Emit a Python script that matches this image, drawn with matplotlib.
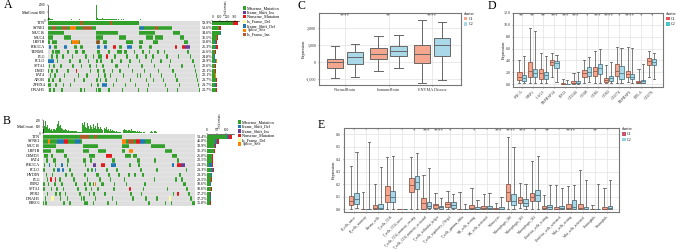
import matplotlib
matplotlib.use('Agg')
import matplotlib.pyplot as plt

W, H = 676, 249
GREEN, BLUE, PURPLE, RED, YELLOW, ORANGE, DARKRED = '#33A02C', '#1F78B4', '#6A3D9A', '#E31A1C', '#FFFF99', '#FF7F00', '#B15928'
SALMON, LBLUE = '#F4A78E', '#A9D8E8'

# ---- panel A oncoplot
genes_a = ['TTN', 'SYNE1', 'MUC16', 'MUC4', 'LRP1B', 'PIK3CA', 'TENM1', 'FLG', 'PCLO', 'SPTA1', 'DMD', 'FAT4', 'APOB', 'ZFHX4', 'DNAH5']
pct_a = ['59.9%', '53.6%', '34.6%', '31.5%', '30.8%', '26.3%', '25.6%', '24.8%', '23.9%', '22.6%', '22.1%', '22.1%', '21.7%', '21.7%', '21.7%']
cells_a = [
    [(0, 91)],
    [(0, 48), (91, 33)],
    [(0, 16), (48, 22), (91, 16), (125, 7)],
    [(0, 5), (16, 7), (48, 7), (71, 7), (98, 7), (107, 8), (132, 4)],
    [(0, 2), (4, 5), (23, 9), (48, 4), (55, 4), (78, 7), (91, 4), (105, 5), (136, 4)],
    [(1, 2), (6, 3), (16, 3), (26, 3), (32, 3), (49, 3), (56, 3), (65, 3), (71, 3), (79, 5), (91, 3), (101, 3), (127, 2), (134, 8)],
    [(4, 2), (7, 5), (19, 2), (27, 3), (34, 3), (49, 3), (60, 2), (69, 5), (76, 3), (86, 1), (94, 2), (101, 1), (109, 2), (116, 1), (139, 2)],
    [(3, 2), (8, 2), (14, 2), (24, 1), (37, 2), (45, 1), (50, 4), (58, 2), (66, 2), (78, 2), (88, 2), (97, 2), (104, 2), (118, 2), (130, 1), (142, 1)],
    [(0, 6), (9, 1), (21, 2), (31, 2), (40, 1), (48, 2), (52, 2), (63, 2), (72, 2), (81, 2), (91, 1), (103, 1), (112, 2), (122, 1), (144, 2)],
    [(1, 1), (5, 2), (12, 2), (24, 2), (33, 1), (41, 2), (48, 1), (54, 2), (67, 3), (80, 1), (93, 2), (106, 1), (121, 1), (133, 2), (146, 1)],
    [(0, 1), (3, 2), (8, 2), (19, 2), (28, 1), (42, 1), (49, 2), (55, 2), (64, 1), (71, 2), (84, 1), (96, 1), (110, 1), (124, 2), (147, 1)],
    [(2, 1), (6, 2), (16, 1), (30, 1), (38, 2), (50, 1), (56, 2), (62, 1), (75, 1), (89, 1), (92, 1), (102, 1), (113, 1), (127, 1), (148, 1)],
    [(0, 2), (4, 2), (11, 2), (26, 1), (35, 2), (48, 2), (52, 1), (57, 2), (68, 1), (82, 1), (98, 1), (105, 1), (115, 1), (128, 2), (149, 1)],
    [(0, 3), (7, 2), (15, 1), (22, 1), (43, 1), (49, 2), (54, 5), (65, 1), (77, 1), (87, 1), (100, 1), (117, 1), (131, 1), (150, 1)],
    [(1, 2), (5, 2), (13, 2), (32, 2), (36, 1), (48, 1), (50, 3), (60, 2), (74, 1), (90, 1), (99, 1), (119, 1), (129, 1), (151, 1)],
]
# (row, start, width, colour) for the cells that are not missense
other_a = [
    (1, 4, 4, DARKRED), (1, 14, 5, DARKRED), (1, 22, 6, ORANGE), (1, 35, 9, DARKRED), (1, 92, 4, BLUE), (1, 107, 3, DARKRED),
    (0, 32, 3, DARKRED), (0, 62, 2, DARKRED), (4, 24, 7, ORANGE), (4, 49, 2, RED),
    (5, 1, 2, BLUE), (5, 16, 3, BLUE), (5, 49, 3, BLUE), (5, 56, 3, BLUE), (5, 65, 3, RED), (5, 79, 5, BLUE),
    (5, 127, 2, RED), (5, 134, 3, RED), (5, 137, 5, PURPLE), (7, 58, 2, RED), (8, 0, 6, BLUE), (10, 28, 1, RED), (13, 54, 5, BLUE),
]
top_a = [14, 10, 6, 5, 4, 3, 3, 2, 2, 2, 2, 2, 2, 3, 2, 2, 2, 1, 1, 2,
         3, 2, 2, 4, 3, 2, 2, 3, 2, 2, 2, 4, 3, 2, 2, 2, 2, 2, 3, 2,
         2, 2, 3, 2, 2, 2, 2, 2, 100, 12, 9, 8, 8, 9, 10, 7, 6, 7, 9, 6,
         6, 5, 5, 6, 4, 5, 5, 4, 5, 3, 4, 3, 3, 4, 3, 4, 3, 3, 3, 3,
         3, 2, 3, 2, 3, 2, 2, 2, 3, 2, 2, 3, 4, 2, 2, 2, 2, 2, 2, 2,
         2, 1, 2, 1, 2, 1, 1, 2, 1, 1, 1, 2, 1, 1, 1, 1, 1, 2, 1, 1,
         1, 1, 1, 1, 1, 1, 1, 1, 1, 1, 1, 1, 1, 1, 1, 1, 1, 1, 1, 1,
         1, 1, 1, 1, 1, 1, 1, 1, 1, 1, 1, 1]
side_a = {GREEN: [270, 85, 105, 62, 42, 30, 38, 28, 32, 38, 38, 36, 46, 40, 44],
          BLUE: [10, 8, 5, 6, 4, 24, 3, 2, 12, 3, 3, 2, 4, 8, 6],
          RED: [60, 25, 8, 10, 10, 24, 6, 5, 10, 6, 6, 4, 6, 8, 6],
          ORANGE: [6, 2, 2, 2, 2, 2, 2, 1, 4, 2, 2, 2, 2, 2, 2]}
legend_a = ['Missense_Mutation', 'Frame_Shift_Ins', 'Nonsense_Mutation', 'In_Frame_Del', 'Frame_Shift_Del', 'Splice_Site', 'In_Frame_Ins']
legend_a_col = [GREEN, PURPLE, RED, YELLOW, BLUE, ORANGE, DARKRED]

# ---- panel B oncoplot
genes_b = ['TTN', 'SYNE1', 'MUC16', 'LRP1B', 'CSMD3', 'FAT4', 'PIK3CA', 'PCLO', 'HYDIN', 'FLG', 'FBN2', 'SPTA1', 'RYR2', 'DNAH5', 'BIRC6']
pct_b = ['51.4%', '45.0%', '33.9%', '31.3%', '26.0%', '22.5%', '21.3%', '21.3%', '21.3%', '20.5%', '18.6%', '18.6%', '17.2%', '17.2%', '15.8%']
cells_b = [
    [(0, 78)],
    [(0, 39), (78, 29)],
    [(0, 13), (40, 15), (78, 7), (107, 13)],
    [(0, 8), (13, 8), (40, 6), (55, 7), (78, 3), (85, 4), (120, 7)],
    [(1, 4), (8, 2), (21, 3), (46, 6), (62, 6), (81, 6), (89, 4), (127, 5)],
    [(3, 2), (10, 3), (24, 2), (40, 3), (47, 2), (68, 3), (93, 3), (110, 2), (132, 2)],
    [(1, 1), (6, 1), (12, 1), (18, 2), (24, 1), (42, 1), (50, 3), (58, 3), (67, 2), (69, 3), (85, 2), (94, 2), (127, 2), (132, 8)],
    [(0, 2), (10, 2), (14, 3), (19, 2), (26, 2), (44, 2), (48, 2), (52, 1), (62, 2), (72, 2), (96, 2), (112, 2), (141, 1)],
    [(3, 1), (9, 1), (22, 2), (28, 2), (41, 2), (53, 3), (64, 2), (74, 2), (84, 2), (90, 2), (98, 2), (134, 2)],
    [(4, 1), (7, 2), (12, 1), (16, 2), (30, 2), (44, 1), (56, 2), (66, 1), (80, 1), (110, 1), (130, 2), (136, 2)],
    [(0, 2), (5, 1), (11, 2), (18, 2), (32, 2), (41, 2), (46, 2), (50, 1), (52, 1), (58, 2), (70, 1), (82, 1), (100, 2), (138, 3)],
    [(0, 2), (8, 1), (13, 2), (20, 1), (34, 2), (42, 2), (48, 1), (54, 2), (69, 2), (85, 2), (99, 1), (122, 1), (141, 2)],
    [(4, 1), (12, 2), (16, 2), (22, 1), (36, 2), (46, 1), (50, 2), (60, 2), (86, 2), (97, 1), (128, 1), (132, 2), (143, 2)],
    [(2, 1), (8, 3), (17, 1), (24, 1), (38, 1), (40, 2), (52, 1), (68, 1), (88, 2), (101, 2), (112, 2), (124, 2), (145, 2)],
    [(0, 1), (2, 2), (20, 2), (26, 2), (41, 4), (50, 1), (63, 2), (72, 1), (104, 2), (120, 1), (126, 1), (147, 3)],
]
other_b = [
    (0, 37, 9, DARKRED), (0, 51, 3, DARKRED), (1, 5, 2, ORANGE), (1, 14, 7, BLUE), (1, 21, 4, RED), (1, 32, 5, BLUE),
    (1, 78, 4, ORANGE), (1, 84, 6, DARKRED), (1, 92, 4, RED), (1, 96, 5, BLUE), (3, 85, 4, ORANGE), (4, 62, 6, RED),
    (6, 6, 1, BLUE), (6, 18, 2, BLUE), (6, 50, 3, PURPLE), (6, 58, 3, RED), (6, 67, 5, BLUE), (6, 127, 2, BLUE), (6, 132, 4, RED), (6, 136, 4, PURPLE),
    (7, 14, 3, BLUE), (7, 19, 2, BLUE), (7, 52, 1, BLUE), (9, 7, 2, RED), (9, 12, 1, RED), (10, 52, 1, ORANGE), (11, 85, 2, RED),
    (12, 132, 2, RED), (13, 8, 3, YELLOW), (13, 124, 2, YELLOW),
]
top_b = [30, 55, 90, 45, 60, 35, 40, 25, 30, 20, 35, 30, 25, 40, 70, 95, 55, 65, 40, 30,
         28, 25, 30, 22, 20, 25, 18, 20, 15, 18, 18, 16, 15, 14, 12, 12, 10, 10, 10, 80,
         60, 85, 50, 40, 75, 55, 35, 65, 45, 30, 70, 40, 55, 35, 75, 45, 30, 50, 35, 25,
         40, 30, 45, 25, 35, 20, 30, 18, 25, 15, 18, 12, 15, 10, 12, 8, 10, 6, 5, 25,
         30, 22, 28, 18, 24, 26, 20, 35, 15, 18, 14, 20, 12, 16, 10, 14, 8, 12, 6, 8,
         8, 6, 5, 6, 4, 5, 12, 15, 8, 6, 14, 18, 12, 6, 5, 4, 5, 3, 4, 3,
         3, 4, 3, 3, 2, 3, 2, 3, 2, 2, 2, 2, 2, 2, 2, 2, 1, 2, 1, 1,
         1, 2, 1, 1, 1, 1, 1, 1, 1, 1]
side_b = {GREEN: [105, 42, 38, 36, 25, 24, 12, 22, 20, 20, 18, 20, 16, 18, 14],
          BLUE: [5, 8, 2, 2, 2, 2, 12, 7, 4, 2, 2, 2, 2, 2, 2],
          PURPLE: [3, 3, 1, 1, 1, 1, 4, 2, 1, 1, 1, 1, 1, 1, 1],
          RED: [15, 8, 4, 5, 4, 3, 5, 3, 3, 2, 2, 2, 2, 2, 2]}
legend_b = ['Missense_Mutation', 'Frame_Shift_Del', 'Frame_Shift_Ins', 'Nonsense_Mutation', 'In_Frame_Del', 'Splice_Site']
legend_b_col = [GREEN, BLUE, PURPLE, RED, YELLOW, ORANGE]

# ---- panel C boxes: low, q1, median, q3, high
cats_c = ['NormalBrain', 'ImmuneBrain', 'ENVMA Disease']
c1_c = [(-940, -314, 0, 196, 960), (-529, 196, 510, 823, 1510), (-1235, -59, 490, 1020, 2470)]
c2_c = [(-863, -78, 314, 588, 1059), (-353, 353, 667, 941, 1588), (-1039, 353, 1020, 1412, 2353)]
sig_c = ['****', '**', '****']

# ---- panel D
genes_d = ['SNCA', 'NRP1', 'LAG3', 'TNFRSF14', 'IDO2', 'CD244', 'CD48', 'CD86', 'CD80', 'CD274', 'TNFRSF9', 'BTLA', 'CD276']
c1_d = [(.17, .67, 1.28, 2.0, 4.0), (.17, 1.28, 2.28, 3.67, 9.5), (.28, .94, 1.83, 2.56, 5.33), (1.17, 3.17, 3.67, 4.0, 5.33),
        (0, .06, .1, .17, .83), (0, .17, .3, .5, 1.83), (.17, 1.28, 1.94, 2.44, 4.0), (.17, 1.44, 2.22, 2.83, 5.67),
        (.17, .33, .72, 1.11, 3.17), (.17, 1.39, 2.28, 3.39, 6.33), (.33, 1.17, 1.67, 2.22, 6.33), (.17, .17, .33, .56, 2.5), (1.28, 3.28, 3.89, 4.44, 5.61)]
c2_d = [(.17, .61, 1.11, 1.56, 4.72), (.17, 1.17, 1.94, 2.56, 9.0), (.17, .94, 1.5, 2.0, 4.83), (.39, 2.78, 3.5, 3.83, 5.0),
        (0, .05, .08, .12, .72), (0, .17, .3, .5, 2.0), (.33, 1.44, 2.06, 2.83, 4.56), (.17, 1.72, 2.67, 3.33, 5.89),
        (.17, .61, 1.06, 1.44, 3.72), (.17, .83, 1.83, 3.0, 6.06), (.17, .83, 1.22, 1.67, 6.06), (.17, .28, .5, .67, 3.39), (.83, 3.17, 3.72, 4.22, 5.17)]
sig_d = ['**', '**', '**', '***', '***', '***', '*', '***', '****', '*', '****', '*', '*']

# ---- panel E
cells_e = ['B_cells_naive', 'B_cells_memory', 'Plasma_cells', 'T_cells_CD8', 'T_cells_CD4_naive', 'T_cells_CD4_memory_resting',
           'T_cells_CD4_memory_activated', 'T_cells_follicular_helper', 'T_cells_regulatory_(Tregs)', 'T_cells_gamma_delta',
           'NK_cells_resting', 'NK_cells_activated', 'Monocytes', 'Macrophages_M0', 'Macrophages_M1', 'Macrophages_M2',
           'Dendritic_cells_resting', 'Dendritic_cells_activated', 'Mast_cells_resting', 'Mast_cells_activated', 'Eosinophils', 'Neutrophils']
c1_e = [(.005, .035, .067, .107, .347), (0, 0, 0, 0, .136), (0, .002, .01, .032, .2), (.005, .061, .115, .184, .416), (0, 0, 0, 0, 0),
        (0, .141, .195, .248, .416), (0, .005, .048, .088, .272), (0, .011, .032, .045, .131), (0, .016, .04, .061, .144), (0, 0, 0, 0, .136),
        (0, 0, .013, .032, .168), (0, 0, .008, .024, .12), (0, 0, .002, .008, .048), (0, .064, .136, .2, .576), (.008, .048, .072, .096, .213),
        (0, .069, .101, .128, .384), (0, .003, .011, .024, .115), (0, 0, .005, .019, .195), (0, 0, .013, .043, .187), (0, 0, .008, .04, .312),
        (0, 0, 0, 0, .032), (0, 0, .005, .016, .168)]
c2_e = [(.008, .04, .08, .128, .456), (0, 0, 0, .005, .539), (0, .003, .012, .045, .336), (.003, .056, .099, .144, .424), (0, 0, 0, 0, 0),
        (0, .16, .221, .264, .448), (0, .008, .027, .056, .328), (0, .003, .019, .029, .088), (0, .011, .035, .056, .12), (0, 0, 0, 0, .04),
        (0, 0, .005, .016, .072), (0, .003, .013, .029, .128), (0, 0, .004, .016, .096), (0, .032, .067, .12, .501), (0, .024, .053, .083, .203),
        (0, .064, .115, .152, .424), (0, .003, .016, .032, .195), (0, 0, .008, .024, .171), (0, 0, .021, .072, .195), (0, 0, .005, .016, .235),
        (0, 0, 0, 0, .2), (0, 0, .008, .024, .237)]
sig_e = ['-', '-', '-', '', '-', '*', '***', '****', '*', '-', '*', '-', '***', '****', '***', '*', '**', '-', '****', '', '**', '-']

plt.rcParams['font.family'] = ['Liberation Serif', 'DejaVu Serif']
fig = plt.figure(figsize=(W / 100, H / 100), dpi=100)


def pax(l, t, r, b):
    return fig.add_axes([l / W, 1 - b / H, (r - l) / W, (b - t) / H])


def ptext(x, y, s, **kw):
    kw.setdefault('fontsize', 3)
    kw.setdefault('va', 'center')
    fig.text(x / W, 1 - y / H, s, **kw)


def oncoplot(box, genes, pct, cells, other, top, side, xmax, ticks, toptop, sidebox, sidemax, sideticks, legend, legend_col, legy, legx):
    l, t, r, b = box
    ax = pax(l, t, r, b)
    ax.set_facecolor('#DEDEDE')
    for i, row in enumerate(cells):
        ax.broken_barh(row, (i + .06, .88), color=GREEN, lw=0)
    for row, s, w, c in other:
        ax.broken_barh([(s, w)], (row + .06, .88), color=c, lw=0)
    for i in range(1, len(genes)):
        ax.axhline(i, color='#F2F2F2', lw=.3)
    ax.set_xlim(0, xmax)
    ax.set_ylim(len(genes), 0)
    ax.set_xticks([])
    ax.set_yticks([])
    for s in ax.spines.values():
        s.set_visible(False)
    for i, g in enumerate(genes):
        yp = t + (b - t) * (i + .5) / len(genes)
        ptext(l - 2.5, yp, g, ha='right')
        ptext(r + 2, yp, pct[i], ha='left')

    axt = pax(l, toptop, r, t - 1)
    axt.bar([v + .5 for v in range(len(top))], top, width=1, color=GREEN, lw=0)
    axt.set_xlim(0, xmax)
    axt.set_ylim(0, 100)
    axt.set_xticks([])
    axt.set_yticks([0, 50, 100])
    axt.set_yticklabels(ticks)
    axt.tick_params(labelsize=2.3, length=1, width=.3, pad=.4)
    for s in ['top', 'right', 'bottom']:
        axt.spines[s].set_visible(False)
    axt.spines['left'].set_linewidth(.4)
    ptext(l - 8.5, (toptop + t) / 2, 'MutCount', ha='right')

    axs = pax(*sidebox)
    left = [0] * len(genes)
    for c, vals in side.items():
        axs.barh(range(len(genes)), vals, left=left, height=.9, color=c, lw=0)
        left = [a + v for a, v in zip(left, vals)]
    axs.set_xlim(0, sidemax)
    axs.set_ylim(len(genes) - .5, -.5)
    axs.xaxis.tick_top()
    axs.set_xticks(sideticks)
    axs.set_yticks([])
    axs.tick_params(labelsize=2.5, length=1, width=.3, pad=.3)
    for s in ['left', 'right', 'bottom']:
        axs.spines[s].set_visible(False)
    axs.spines['top'].set_linewidth(.4)
    ptext((sidebox[0] + sidebox[2]) / 2, sidebox[1] - 13.5, 'Total variants', rotation=90, ha='center', fontsize=1.9)

    for lab, c, y in zip(legend, legend_col, legy):
        fig.patches.append(plt.Rectangle(((legx - 1.7) / W, 1 - (y + 1.7) / H), 3.4 / W, 3.4 / H, transform=fig.transFigure, color=c, lw=0))
        ptext(legx + 3, y, lab, ha='left')


def boxes(box, cats, c1, c2, ylim, yticks, ylabs, width, dodge, first, step, sig, sigy, ylab_x, rot, legend, lw, e1, e2, xsize):
    l, t, r, b = box
    ax = pax(l, t, r, b)
    stats = lambda v: [dict(whislo=a, q1=q1, med=m, q3=q3, whishi=h) for a, q1, m, q3, h in v]
    n = len(cats)
    for vals, off, fc, ec in [(c1, -dodge, SALMON, e1), (c2, dodge, LBLUE, e2)]:
        pos = [i + off for i in range(n)]
        ax.bxp(stats(vals), positions=pos, widths=width, patch_artist=True, showfliers=False, manage_ticks=False,
               boxprops=dict(facecolor=fc, edgecolor=ec, linewidth=lw),
               medianprops=dict(color=ec, linewidth=lw), whiskerprops=dict(color='#666666', linewidth=lw),
               capprops=dict(color='#666666', linewidth=lw), capwidths=width * .5, zorder=3)
    ax.set_xlim((l - first) / step, (r - first) / step)
    ax.set_ylim(*ylim)
    ax.set_xticks(range(n))
    if rot:
        ax.set_xticklabels(cats, rotation=45, ha='right', rotation_mode='anchor')
    else:
        ax.set_xticklabels(cats)
    ax.set_yticks(yticks)
    ax.set_yticklabels(ylabs)
    ax.tick_params(labelsize=3, length=1, width=.4, pad=1, color='#555555', labelcolor='#333333')
    ax.tick_params(axis='x', labelsize=xsize)
    ax.grid(color='#E2E2E2', lw=.5)
    ax.set_axisbelow(True)
    for s in ax.spines.values():
        s.set_color('#777777')
        s.set_linewidth(.8)
    for i, s in enumerate(sig):
        ptext(first + step * i, sigy, s, ha='center', fontsize=3.5, color='#333333')
    ptext(ylab_x, (t + b) / 2, 'Expression', rotation=90, ha='center')
    lx, ly, c_a, c_b, gap = legend
    ptext(lx, ly, 'cluster', ha='left')
    for k, (c, lab) in enumerate([(c_a, 'C1'), (c_b, 'C2')]):
        yy = ly + 4.5 + gap * k
        fig.patches.append(plt.Rectangle((lx / W, 1 - (yy + 1.7) / H), 3.6 / W, 3.4 / H, transform=fig.transFigure, color=c, lw=0))
        ptext(lx + 5, yy, lab, ha='left')


oncoplot((47.5, 21, 200, 92), genes_a, pct_a, cells_a, other_a, top_a, side_a, 152, ['0', '1000', '2000'], 5,
         (212.3, 21, 239, 92), 356, [0, 100, 200, 300], legend_a, legend_a_col, [8, 12.3, 16.7, 21.3, 26, 30.3, 34.7], 244.3)
oncoplot((42.5, 134.3, 195, 205.7), genes_b, pct_b, cells_b, other_b, top_b, side_b, 150, ['0', '100', '200'], 120,
         (207, 134.3, 234, 205.7), 141, [0, 50, 100], legend_b, legend_b_col, [122, 126.7, 131, 135.5, 140, 144], 239.3)

boxes((319, 12.7, 460.7, 85), cats_c, c1_c, c2_c, (-1325, 2900), [-1000, 0, 1000, 2000], ['-1,000', '0', '1,000', '2,000'],
      .38, .23, 345, 43.5, sig_c, 15, 304, False, (463.5, 14, SALMON, LBLUE, 5.5), .7, '#666666', '#666666', 3)
boxes((513.3, 12.7, 663.3, 86.7), genes_d, c1_d, c2_d, (-.39, 12), [0, 2, 4, 6, 8, 10, 12], ['0.0', '2.0', '4.0', '6.0', '8.0', '10.0', '12.0'],
      .4, .215, 521.7, 10.83, sig_d, 15.3, 504, True, (666, 14, '#E4585C', '#4DC4C4', 5.7), .6, '#9C5A48', '#4F7F8C', 3)
boxes((344, 127.7, 619.3, 211.7), cells_e, c1_e, c2_e, (-.019, .653), [0, .1, .2, .3, .4, .5, .6], ['0.0', '0.1', '0.2', '0.3', '0.4', '0.5', '0.6'],
      .39, .235, 353.8, 12.07, sig_e, 130.3, 334, True, (622, 129.3, '#C4566A', '#8FD3E4', 6), .6, '#8A5A4C', '#4F6F7C', 2.5)

for lab, x, y in [('A', 3.5, 5.5), ('B', 3, 121), ('C', 297, 6), ('D', 488, 6), ('E', 317.5, 125)]:
    ptext(x, y, lab, fontsize=8.5, ha='left')

fig.savefig('out.png', dpi=100)
